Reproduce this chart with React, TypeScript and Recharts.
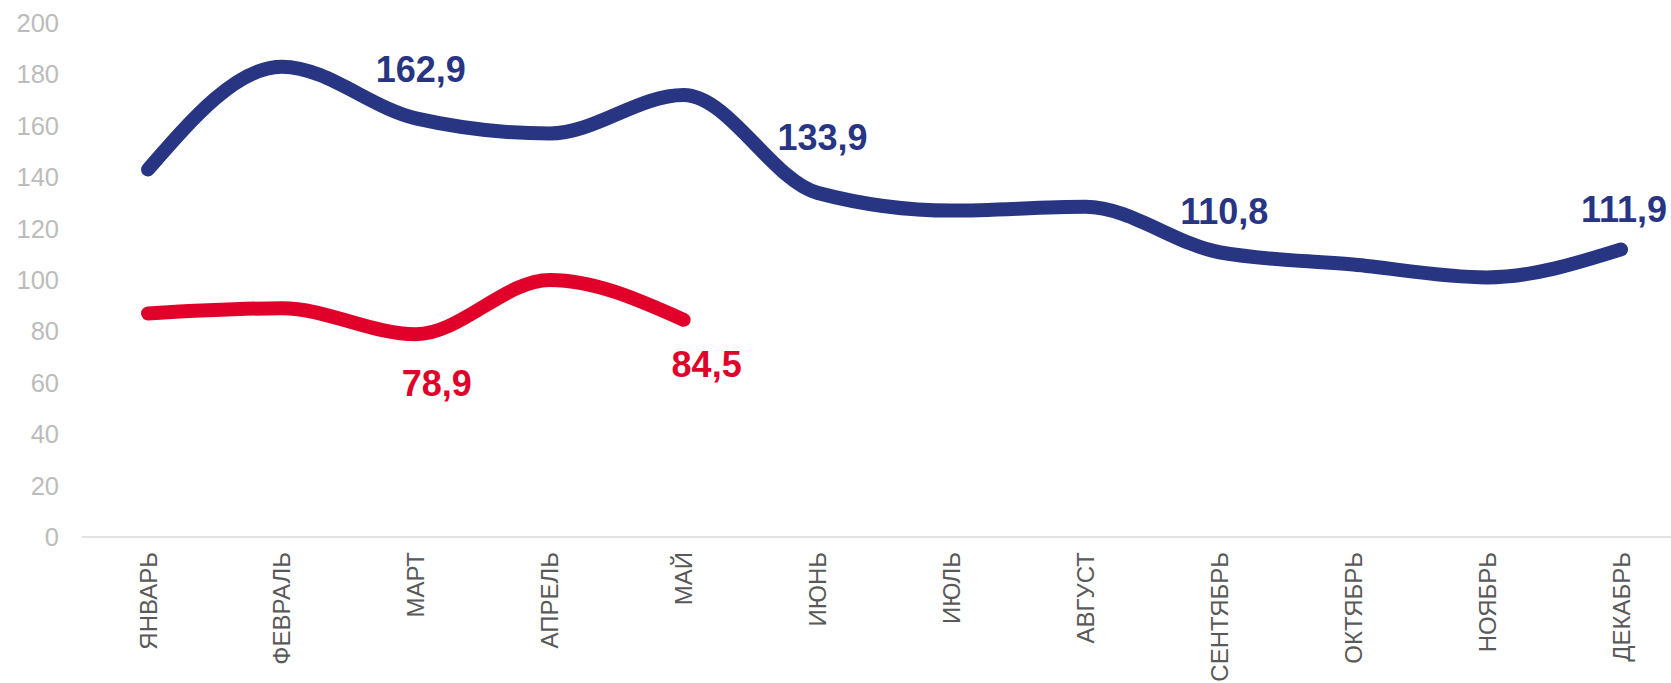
import { LineChart, Line, XAxis, YAxis, LabelList } from "recharts";

const months = [
  "ЯНВАРЬ",
  "ФЕВРАЛЬ",
  "МАРТ",
  "АПРЕЛЬ",
  "МАЙ",
  "ИЮНЬ",
  "ИЮЛЬ",
  "АВГУСТ",
  "СЕНТЯБРЬ",
  "ОКТЯБРЬ",
  "НОЯБРЬ",
  "ДЕКАБРЬ",
];

// previous year, full 12 months
const blueValues = [143, 183, 162.9, 157, 172, 133.9, 127, 128.5, 110.8, 106, 101, 111.9];
// current year, through May
const redValues = [87, 89, 78.9, 100, 84.5];

const yTicks = [0, 20, 40, 60, 80, 100, 120, 140, 160, 180, 200];

const blueLabelIdx = [2, 5, 8, 11];
const redLabelIdx = [2, 4];

const BLUE = "#283583";
const RED = "#e0002a";
const FONT = "'Liberation Sans', Arial, sans-serif";

// label nudges (dx, baseline dy) per index, as placed in the original
const blueLabelPos: Record<number, [number, number]> = {
  2: [5, -36],
  5: [5, -43],
  8: [5, -28],
  11: [3, -27],
};
const redLabelPos: Record<number, [number, number]> = {
  2: [21, 62],
  4: [23, 57],
};

const data = months.map((m, i) => ({
  month: m,
  blue: blueValues[i],
  red: i < redValues.length ? redValues[i] : null,
}));

const fmt = (v: number) => v.toFixed(1).replace(".", ",");

function makeLabel(show: number[], pos: Record<number, [number, number]>, color: string) {
  return (props: any) => {
    const { x, y, value, index } = props;
    if (!show.includes(index) || value == null) return null;
    const [dx, dy] = pos[index] || [0, -30];
    return (
      <text
        x={x + dx}
        y={y + dy}
        textAnchor="middle"
        fill={color}
        fontFamily={FONT}
        fontSize={36}
        fontWeight="bold"
      >
        {fmt(value)}
      </text>
    );
  };
}

function MonthTick(props: any) {
  const { x, y, payload } = props;
  return (
    <g transform={`translate(${x},${y})`}>
      <text
        transform="rotate(-90)"
        textAnchor="end"
        dominantBaseline="central"
        fill="#595959"
        fontFamily={FONT}
        fontSize={24}
      >
        {payload.value}
      </text>
    </g>
  );
}

export default function App() {
  return (
    <div
      style={{
        position: "absolute",
        left: 0,
        top: 0,
        width: 1671,
        height: 683,
        overflow: "hidden",
        background: "#fff",
      }}
    >
      <LineChart
        width={1671}
        height={683}
        data={data}
        margin={{ top: 23, right: 0, bottom: 0, left: 0 }}
      >
        <XAxis
          dataKey="month"
          interval={0}
          height={146}
          padding={{ left: 66, right: 50 }}
          axisLine={{ stroke: "#d9d9d9", strokeWidth: 1.5 }}
          tickLine={false}
          tickSize={0}
          tickMargin={15}
          tick={<MonthTick />}
        />
        <YAxis
          width={82}
          domain={[0, 200]}
          ticks={yTicks}
          axisLine={false}
          tickLine={false}
          tickSize={0}
          tickMargin={23}
          tick={{ fill: "#bcbcbc", fontSize: 25.5, fontFamily: FONT }}
        />
        <Line
          type="monotone"
          dataKey="blue"
          stroke={BLUE}
          strokeWidth={14}
          strokeLinecap="round"
          dot={false}
          activeDot={false}
          isAnimationActive={false}
        >
          <LabelList dataKey="blue" content={makeLabel(blueLabelIdx, blueLabelPos, BLUE)} />
        </Line>
        <Line
          type="monotone"
          dataKey="red"
          stroke={RED}
          strokeWidth={14}
          strokeLinecap="round"
          dot={false}
          activeDot={false}
          isAnimationActive={false}
        >
          <LabelList dataKey="red" content={makeLabel(redLabelIdx, redLabelPos, RED)} />
        </Line>
      </LineChart>
    </div>
  );
}
